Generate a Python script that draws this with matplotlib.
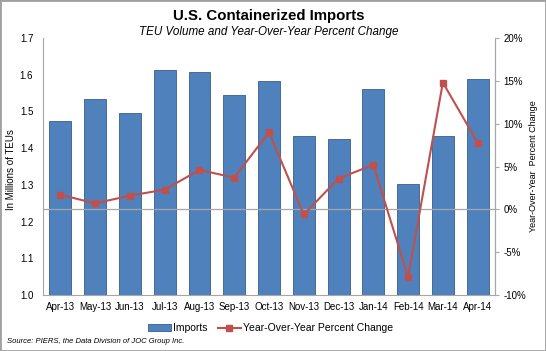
import matplotlib
matplotlib.use("Agg")
import matplotlib.pyplot as plt
from matplotlib.ticker import FuncFormatter
from matplotlib.patches import Rectangle

months = ["Apr-13", "May-13", "Jun-13", "Jul-13", "Aug-13", "Sep-13", "Oct-13",
          "Nov-13", "Dec-13", "Jan-14", "Feb-14", "Mar-14", "Apr-14"]
imports = [1.473, 1.534, 1.497, 1.614, 1.607, 1.545, 1.582,
           1.433, 1.425, 1.561, 1.303, 1.432, 1.588]
yoy_pct = [1.7, 0.7, 1.6, 2.3, 4.6, 3.7, 9.0,
           -0.6, 3.6, 5.2, -7.9, 14.8, 7.8]

plt.rcParams['font.family'] = ['Liberation Sans', 'DejaVu Sans']

fig = plt.figure(figsize=(5.46, 3.51), dpi=100)
fig.patches.append(Rectangle((0, 0), 1, 1, transform=fig.transFigure,
                             fill=False, edgecolor="#a0a0a0", linewidth=2))

ax = fig.add_axes([0.0788, 0.1595, 0.8278, 0.7322])
x = list(range(len(months)))
bars = ax.bar(x, imports, width=0.63, color="#4F81BD", edgecolor="#385D8A",
              linewidth=0.6, label="Imports", zorder=2)
ax.set_ylim(1.0, 1.7)
ax.set_xlim(-0.5, len(months) - 0.5)
ax.set_yticks([1.0, 1.1, 1.2, 1.3, 1.4, 1.5, 1.6, 1.7])
ax.yaxis.set_major_formatter(FuncFormatter(lambda v, p: f"{v:.1f}"))
ax.set_xticks(x)
ax.set_xticklabels(months)
ax.tick_params(axis='x', length=0, labelsize=7, pad=5)
ax.tick_params(axis='y', length=0, labelsize=7, pad=7)
ax.set_ylabel("In Millions of TEUs", fontsize=7)
ax.yaxis.set_label_coords(-0.060, 0.49)
for s in ["top"]:
    ax.spines[s].set_visible(False)
for s in ["left", "bottom", "right"]:
    ax.spines[s].set_color("#a6a6a6")
    ax.spines[s].set_linewidth(0.8)

ax2 = ax.twinx()
ax2.set_ylim(-10, 20)
ax2.set_yticks([-10, -5, 0, 5, 10, 15, 20])
ax2.yaxis.set_major_formatter(FuncFormatter(lambda v, p: f"{int(v)}%"))
ax2.axhline(0, color="#a6a6a6", linewidth=0.9, zorder=1)
line, = ax2.plot(x, yoy_pct, color="#C0504D", linewidth=1.5, marker="s",
                 markersize=4, label="Year-Over-Year Percent Change", zorder=3)
ax2.tick_params(axis='y', length=3, color="#a6a6a6", labelsize=7, pad=3)
ax2.set_ylabel("Year-Over-Year  Percent Change", fontsize=6.5)
ax2.yaxis.set_label_coords(1.075, 0.5)
for s in ["top", "left", "bottom"]:
    ax2.spines[s].set_visible(False)
ax2.spines["right"].set_color("#a6a6a6")
ax2.spines["right"].set_linewidth(0.8)

fig.legend([bars, line], ["Imports", "Year-Over-Year Percent Change"],
           loc="center", bbox_to_anchor=(0.495, 0.065), ncol=2, frameon=False,
           fontsize=7.5, handlelength=2.2, handleheight=0.6, columnspacing=1.0,
           handletextpad=0.2)

fig.text(0.493, 0.955, "U.S. Containerized Imports", ha="center", va="center",
         fontsize=10.8, fontweight="bold")
fig.text(0.493, 0.91, "TEU Volume and Year-Over-Year Percent Change", ha="center",
         va="center", fontsize=8.4, style="italic")
fig.text(0.012, 0.027, "Source: PIERS, the Data Division of JOC Group Inc.",
         ha="left", va="center", fontsize=5.5, style="italic")

fig.savefig("out.png", dpi=100)
